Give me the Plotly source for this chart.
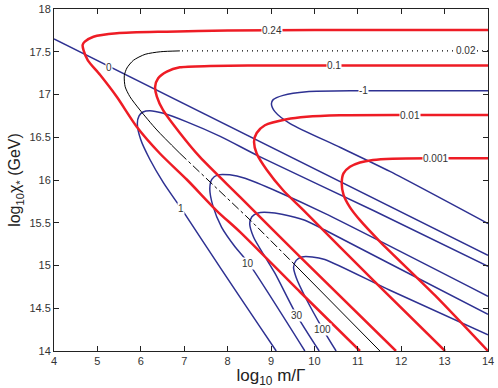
import plotly.graph_objects as go

# contour curves (x = log10 m/Gamma, y = log10 chi)
red_024_x = [14.0, 12.0, 10.0, 8.0, 6.6, 5.45, 4.91, 4.71, 4.66, 4.68, 4.78, 5.06, 5.45, 5.91, 6.44, 7.07, 7.75, 8.29, 9.67, 11.05]
red_024_y = [17.755, 17.755, 17.753, 17.748, 17.735, 17.716, 17.676, 17.618, 17.58, 17.52, 17.40, 17.23, 16.97, 16.62, 16.31, 16.0, 15.64, 15.39, 14.69, 14.0]

red_01_x = [14.0, 12.0, 10.0, 8.5, 7.6, 6.9, 6.6, 6.4, 6.33, 6.37, 6.51, 6.90, 7.36, 8.29, 9.67, 11.88]
red_01_y = [17.34, 17.34, 17.34, 17.338, 17.333, 17.318, 17.267, 17.19, 17.09, 16.975, 16.82, 16.55, 16.27, 15.80, 15.10, 14.0]

red_001_x = [14.0, 12.2, 10.59, 9.82, 9.36, 8.86, 8.67, 8.61, 8.67, 8.90, 9.28, 9.74, 11.37, 13.01]
red_001_y = [16.76, 16.76, 16.757, 16.74, 16.71, 16.64, 16.55, 16.45, 16.31, 16.12, 15.88, 15.65, 14.82, 14.0]

red_0001_x = [14.0, 12.8, 11.8, 11.35, 11.05, 10.82, 10.67, 10.63, 10.67, 10.82, 11.05, 11.51, 12.78, 14.0]
red_0001_y = [16.255, 16.255, 16.25, 16.235, 16.205, 16.155, 16.078, 15.961, 15.83, 15.68, 15.53, 15.28, 14.65, 14.0]

blue_0_x = [4.0, 14.0]
blue_0_y = [17.65, 15.12]

blue_m1_x = [14.0, 12.5, 11.05, 9.82, 9.28, 9.05, 9.01, 9.09, 9.44, 10.6, 11.74, 14.0]
blue_m1_y = [17.045, 17.045, 17.044, 17.033, 16.99, 16.94, 16.89, 16.80, 16.66, 16.38, 16.10, 15.49]

blue_1_x = [9.12, 8.75, 7.85, 6.98, 6.52, 6.21, 6.0, 5.92, 5.96, 6.05, 6.21, 6.52, 7.06, 7.83, 8.75, 11.37, 14.0]
blue_1_y = [14.0, 14.28, 14.96, 15.63, 15.97, 16.24, 16.47, 16.66, 16.75, 16.795, 16.81, 16.78, 16.68, 16.51, 16.27, 15.64, 14.99]

blue_10_x = [9.78, 8.48, 8.17, 7.86, 7.66, 7.59, 7.64, 7.78, 8.05, 8.40, 9.17, 10.24, 14.0]
blue_10_y = [14.0, 15.03, 15.22, 15.45, 15.70, 15.90, 16.01, 16.06, 16.06, 16.02, 15.86, 15.61, 14.64]

blue_30_x = [10.11, 9.59, 9.09, 8.84, 8.60, 8.51, 8.56, 8.70, 8.95, 9.25, 9.78, 10.24, 11.74, 14.0]
blue_30_y = [14.0, 14.42, 14.91, 15.12, 15.33, 15.49, 15.57, 15.615, 15.62, 15.60, 15.53, 15.415, 15.02, 14.43]

blue_100_x = [10.50, 10.19, 9.80, 9.58, 9.52, 9.58, 9.71, 9.95, 10.24, 11.74, 14.0]
blue_100_y = [14.0, 14.26, 14.62, 14.86, 14.98, 15.06, 15.10, 15.10, 15.07, 14.71, 14.19]

black_dot_x = [14.0, 6.9]
black_dot_y = [17.51, 17.51]
black_top_x = [6.9, 6.45, 6.1, 5.83, 5.68, 5.62, 5.64, 5.75, 5.98, 6.37, 6.9]
black_top_y = [17.51, 17.50, 17.47, 17.40, 17.31, 17.22, 17.09, 16.974, 16.819, 16.585, 16.312]
black_mid_x = [6.9, 8.52, 9.51]
black_mid_y = [16.312, 15.532, 15.029]
black_low_x = [9.51, 11.51]
black_low_y = [15.029, 14.0]

label_text = ["0.24", "0.02", "0.1", "-1", "0.01", "0.001", "0", "1", "10", "30", "100"]
label_x = [9.02, 13.49, 10.44, 11.14, 12.2, 12.79, 5.275, 6.926, 8.463, 9.59, 10.19]
label_y = [17.754, 17.51, 17.337, 17.045, 16.76, 16.254, 17.313, 15.669, 15.026, 14.42, 14.257]

RED = "#ee1c25"
BLUE = "#2e3192"
FONT = "Liberation Sans, Arial"

fig = go.Figure()

fig.add_trace(go.Scatter(x=blue_0_x, y=blue_0_y, mode="lines", line=dict(color=BLUE, width=1.5)))
for xs, ys in [(blue_m1_x, blue_m1_y), (blue_1_x, blue_1_y), (blue_10_x, blue_10_y),
               (blue_30_x, blue_30_y), (blue_100_x, blue_100_y)]:
    fig.add_trace(go.Scatter(x=xs, y=ys, mode="lines",
                             line=dict(color=BLUE, width=1.5, shape="spline", smoothing=0.7)))

fig.add_trace(go.Scatter(x=black_dot_x, y=black_dot_y, mode="lines",
                         line=dict(color="black", width=1.2, dash="1px,4px")))
fig.add_trace(go.Scatter(x=black_top_x, y=black_top_y, mode="lines",
                         line=dict(color="black", width=1, shape="spline", smoothing=0.7)))
fig.add_trace(go.Scatter(x=black_mid_x, y=black_mid_y, mode="lines", line=dict(color="black", width=1, dash="dashdot")))
fig.add_trace(go.Scatter(x=black_low_x, y=black_low_y, mode="lines", line=dict(color="black", width=1)))

for xs, ys in [(red_024_x, red_024_y), (red_01_x, red_01_y), (red_001_x, red_001_y), (red_0001_x, red_0001_y)]:
    fig.add_trace(go.Scatter(x=xs, y=ys, mode="lines",
                             line=dict(color=RED, width=2.5, shape="spline", smoothing=0.7)))

for t, x, y in zip(label_text, label_x, label_y):
    fig.add_annotation(x=x, y=y, text=t, showarrow=False, bgcolor="white", borderpad=0,
                       font=dict(family=FONT, size=10, color="#333"))

axis_style = dict(showline=True, linecolor="#222", linewidth=1, mirror="ticks", ticks="inside",
                  ticklen=5, tickcolor="#222", showgrid=False, zeroline=False, automargin=False,
                  tickfont=dict(family=FONT, size=11, color="#333"))

fig.update_xaxes(range=[4, 14], dtick=1, **axis_style,
                 title=dict(text="log<sub>10</sub> m/Γ", standoff=0,
                            font=dict(family=FONT, size=17, color="#222")))
fig.update_yaxes(range=[14, 18], dtick=0.5, **axis_style,
                 title=dict(text="log<sub>10</sub>χ<sub>*</sub> (GeV)", standoff=4,
                            font=dict(family=FONT, size=16, color="#222")))

fig.update_layout(width=498, height=388, margin=dict(l=54, r=10, t=9, b=37),
                  plot_bgcolor="white", paper_bgcolor="white", showlegend=False)

# drop the browser's default 8px body margin so the figure sits at the window corner
fig.write_html("out.html", config={"displayModeBar": False},
               post_script="document.body.style.margin='0';")
